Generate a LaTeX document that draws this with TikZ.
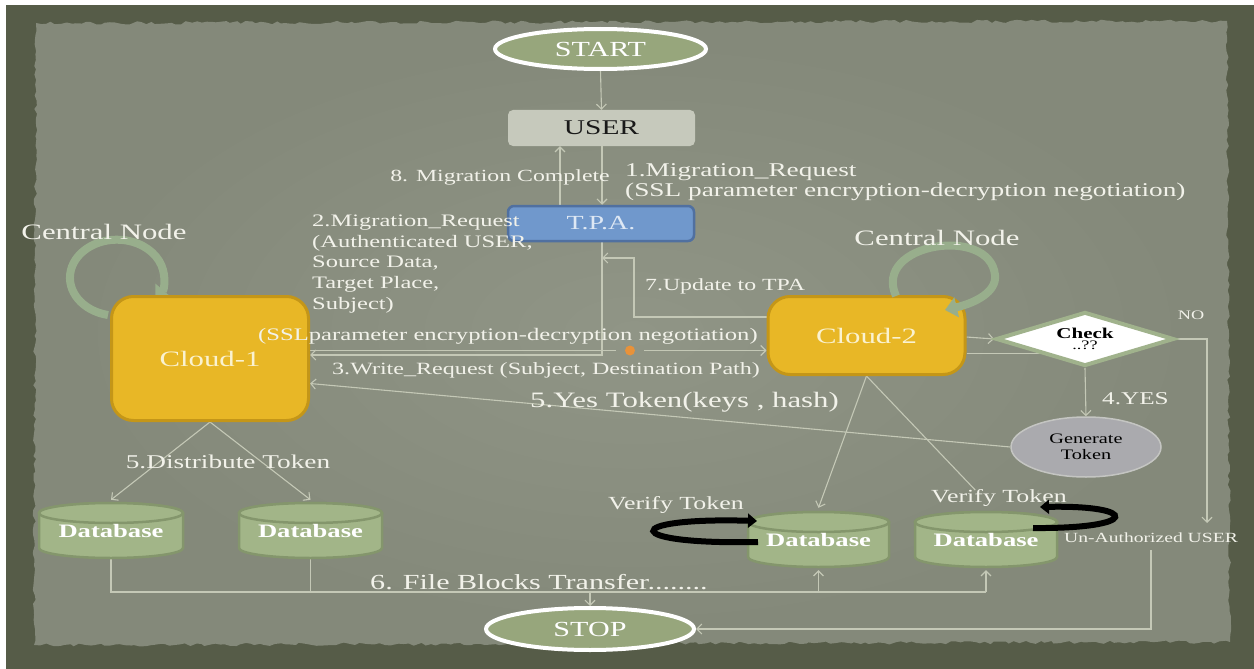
\documentclass[tikz,border=0pt]{standalone}
\usepackage{fontspec}
\setmainfont{Liberation Serif}[FakeStretch=1.4]
\usetikzlibrary{shapes.geometric,arrows.meta,calc,decorations.pathmorphing}
\definecolor{framec}{RGB}{86,92,72}
\definecolor{paper}{RGB}{132,137,122}
\definecolor{paperlight}{RGB}{144,149,134}
\definecolor{lineclr}{RGB}{196,200,182}
\definecolor{txt}{RGB}{242,242,234}
\definecolor{cloudfill}{RGB}{232,183,38}
\definecolor{cloudedge}{RGB}{196,150,24}
\definecolor{cloudtxt}{RGB}{250,242,208}
\definecolor{sage}{RGB}{151,166,124}
\definecolor{arcclr}{RGB}{152,174,140}
\definecolor{dbfill}{RGB}{162,181,136}
\definecolor{dbedge}{RGB}{132,150,108}
\definecolor{userfill}{RGB}{198,201,188}
\definecolor{tpafill}{RGB}{112,152,204}
\definecolor{tpaedge}{RGB}{80,112,160}
\definecolor{tpatxt}{RGB}{222,232,244}
\definecolor{genfill}{RGB}{170,170,174}
\definecolor{genedge}{RGB}{196,197,194}
\definecolor{diaedge}{RGB}{160,178,140}
\definecolor{dotclr}{RGB}{232,146,58}
\pgfdeclarelayer{bg}
\pgfdeclarelayer{edges}
\pgfsetlayers{bg,edges,main}
\tikzset{
  conn/.style={draw=lineclr, line width=1.1pt, -{Straight Barb[length=5pt,width=10pt]}},
  plain/.style={draw=lineclr, line width=1.1pt},
  term/.style={ellipse, fill=sage, draw=white, line width=4pt, text=white,
    font=\fontsize{21.5}{22}\selectfont, inner sep=0pt},
  cloudbox/.style={rectangle, rounded corners=22pt, fill=cloudfill, draw=cloudedge, line width=3pt,
    text=cloudtxt, font=\fontsize{22}{24}\selectfont, inner sep=0pt},
  lbl/.style={text=txt, inner sep=0pt},
  arcarrow/.style={draw=arcclr, line width=8pt, -{Triangle[length=12pt,width=20pt]}},
  blackloop/.style={draw=black, line width=6pt, -{Triangle[length=9pt,width=14pt]}},
  dbbody/.style={fill=dbfill, draw=dbedge, line width=2.5pt},
  dbtext/.style={rectangle, inner sep=0pt, text=white, font=\bfseries\fontsize{19}{19}\selectfont},
}
\newcommand{\dbcyl}[5]{%
  \pgfmathsetmacro{\dbrx}{#4/2}\pgfmathsetmacro{\dbhh}{#5/2}%
  \path[dbbody] (#2-\dbrx, #3-\dbhh+10) -- (#2-\dbrx, #3+\dbhh-10)
     arc[start angle=180, end angle=0, x radius=\dbrx, y radius=10]
     -- (#2+\dbrx, #3-\dbhh+10)
     arc[start angle=0, end angle=-180, x radius=\dbrx, y radius=10] -- cycle;
  \path[dbbody] (#2, #3-\dbhh+10) ellipse[x radius=\dbrx, y radius=10];
  \node[dbtext, minimum width=#4pt, minimum height=#5pt] (#1) at (#2,#3) {\raisebox{-6pt}{Database}};
}
\begin{document}
\begin{tikzpicture}[x=1pt, y=-1pt]
\useasboundingbox (0,0) rectangle (1254,669);
\begin{pgfonlayer}{bg}
  \fill[white] (0,0) rectangle (1254,669);
  \fill[framec] (6,5) rectangle (1254,669);
  \fill[paper, decorate, decoration={random steps, segment length=5pt, amplitude=1.6pt}]
    (36,23) -- (1227,21) -- (1230,642) -- (34,645) -- cycle;
  \shade[inner color=paperlight, outer color=paper] (634,333) ellipse[x radius=560, y radius=295];
\end{pgfonlayer}

% main nodes
\node[term, minimum width=211pt, minimum height=40pt] (start) at (600.5,49) {START};
\node[rectangle, rounded corners=5pt, fill=userfill, minimum width=187pt, minimum height=36pt,
  text={rgb,255:red,25;green,25;blue,25}, font=\fontsize{21}{22}\selectfont, inner sep=0pt] (user) at (601.5,128) {USER};
\node[rectangle, rounded corners=6pt, fill=tpafill, draw=tpaedge, line width=2.5pt,
  minimum width=186pt, minimum height=35pt, text=tpatxt, font=\fontsize{20}{22}\selectfont, inner sep=0pt] (tpa) at (601,223.5) {T.P.A.};

% left circular arrow (behind Cloud-1)
\begin{pgfonlayer}{edges}
  \draw[arcarrow] (108,315) arc[start angle=101, end angle=395, x radius=47, y radius=38];
\end{pgfonlayer}

\node[cloudbox, minimum width=197pt, minimum height=124pt] (cloud1) at (210,358.5) {Cloud-1};
\node[cloudbox, minimum width=197pt, minimum height=78pt] (cloud2) at (866.5,335.5) {Cloud-2};

% right circular arrow (over Cloud-2)
\draw[arcarrow] (896,296) .. controls (872,243) and (990,225) .. (995,275) .. controls (997,292) and (975,303) .. (945,310);

\node[diamond, aspect=3.2, fill=white, draw=diaedge, line width=4pt, minimum width=178pt, minimum height=54pt,
  inner sep=0pt, align=center, text=black] (check) at (1085,339)
  {{\bfseries\fontsize{15}{19}\selectfont Check}\\[-1pt]{\fontsize{13}{13}\selectfont ..??}};
\node[ellipse, fill=genfill, draw=genedge, line width=1.5pt, minimum width=150pt, minimum height=60pt,
  inner sep=0pt, align=center, text=black, font=\fontsize{14.5}{16}\selectfont] (gen) at (1086,447) {Generate\\Token};

\node[circle, fill=dotclr, minimum size=10pt, inner sep=0pt, outer sep=9pt] (dot) at (630,350.5) {};

\dbcyl{db1}{111}{530.5}{144}{55}
\dbcyl{db2}{310.5}{530.5}{143}{55}
\dbcyl{db3}{818.5}{539.5}{141}{55}
\dbcyl{db4}{986}{539.5}{142}{55}

\node[term, minimum width=208pt, minimum height=42pt] (stop) at (590,629) {STOP};

% labels
\node[lbl, font=\fontsize{17}{17}\selectfont] (l8) at (500,177) {8. Migration Complete};
\node[lbl, font=\fontsize{19.5}{20}\selectfont, align=left, anchor=west] (l1) at (625,182)
  {1.Migration\_Request\\(SSL parameter encryption-decryption negotiation)};
\node[lbl, font=\fontsize{22}{22}\selectfont] (cn1) at (104,232) {Central Node};
\node[lbl, font=\fontsize{22}{22}\selectfont] (cn2) at (937,238) {Central Node};
\node[lbl, font=\fontsize{17.5}{20.7}\selectfont, align=left, anchor=west] (l2) at (312,264)
  {2.Migration\_Request\\(Authenticated USER,\\Source Data,\\Target Place,\\Subject)};
\node[lbl, font=\fontsize{17}{17}\selectfont, anchor=west] (l7) at (645,286) {7.Update to TPA};
\node[lbl, font=\fontsize{17.6}{18}\selectfont, anchor=west] (lssl) at (258,336)
  {(SSLparameter encryption-decryption negotiation)};
\node[lbl, font=\fontsize{17.2}{18}\selectfont, anchor=west] (l3) at (332,370)
  {3.Write\_Request (Subject, Destination Path)};
\node[lbl, font=\fontsize{22}{22}\selectfont, anchor=west] (l5) at (530,402) {5.Yes Token(keys , hash)};
\node[lbl, font=\fontsize{19.5}{20}\selectfont] (l5d) at (228,462) {5.Distribute Token};
\node[lbl, font=\fontsize{21.5}{22}\selectfont, anchor=west] (l6) at (370,582) {6. File Blocks Transfer........};
\node[lbl, font=\fontsize{18.5}{19}\selectfont] (vt1) at (676,505) {Verify Token};
\node[lbl, font=\fontsize{18.5}{19}\selectfont] (vt2) at (999,498) {Verify Token};
\node[lbl, font=\fontsize{14}{14}\selectfont] (unauth) at (1151,538) {Un-Authorized USER};
\node[lbl, font=\fontsize{13}{13}\selectfont] (no) at (1191,315) {NO};
\node[lbl, font=\fontsize{18}{18}\selectfont, anchor=west] (yes) at (1102,399) {4.YES};

% black verify loops
\coordinate (la) at (758,542);
\coordinate (lb) at (757,521);
\coordinate (ra) at (1033,528);
\coordinate (rb) at (1040,507);
\draw[blackloop] (la) .. controls (620,545) and (620,517) .. (lb);
\draw[blackloop] (ra) .. controls (1140,529) and (1140,505) .. (rb);

% helper coordinates
\coordinate (xs) at (560,0);
\coordinate (xd) at (602,0);
\coordinate (u0) at (634,317);
\coordinate (u1) at (634,258);
\coordinate (nend) at (1207,523);
\coordinate (bus) at (0,592);

\begin{pgfonlayer}{edges}
  \draw[conn] (start.south) -- (user.north);
  \draw[conn] (user.south -| xd) -- (tpa.north -| xd);
  \draw[conn] (tpa.north -| xs) -- (user.south -| xs);
  \draw[conn] (tpa.south -| xd) |- ([yshift=3.5pt]cloud1.east);
  \draw[plain] (cloud1.east |- dot) -- (dot);
  \draw[conn] (dot) -- (cloud2.west |- dot);
  \draw[conn] (cloud2.west |- u0) -- (u0) -- (u1) -- (u1 -| xd);
  \draw[conn] (gen.west) -- ([yshift=-25pt]cloud1.east);
  \draw[conn] ([yshift=-1.5pt]cloud2.east) -- (check.west);
  \draw[plain] (check.south west -| cloud2.east) -- (check.south west);
  \draw[conn] (check.south) -- (gen.north);
  \draw[conn] (check.east) -| (nend);
  \draw[conn] ([yshift=-7pt]unauth.south) |- (stop.east);
  \draw[conn] (cloud1.south) -- ([yshift=3pt]db1.north);
  \draw[conn] (cloud1.south) -- ([yshift=3pt]db2.north);
  \draw[conn] (cloud2.south) -- ([yshift=4pt]db3.north);
  \draw[plain, shorten >=30pt] (cloud2.south) -- ([xshift=10pt]db4.north);
  \draw[plain] (db1.south) |- (db4.south |- bus);
  \draw[plain] (db2.south) -- (db2.south |- bus);
  \draw[conn] (stop.north |- bus) -- (stop.north);
  \draw[conn] (db3.south |- bus) -- ([yshift=-3pt]db3.south);
  \draw[conn] (db4.south |- bus) -- ([yshift=-3pt]db4.south);
\end{pgfonlayer}
\end{tikzpicture}
\end{document}
